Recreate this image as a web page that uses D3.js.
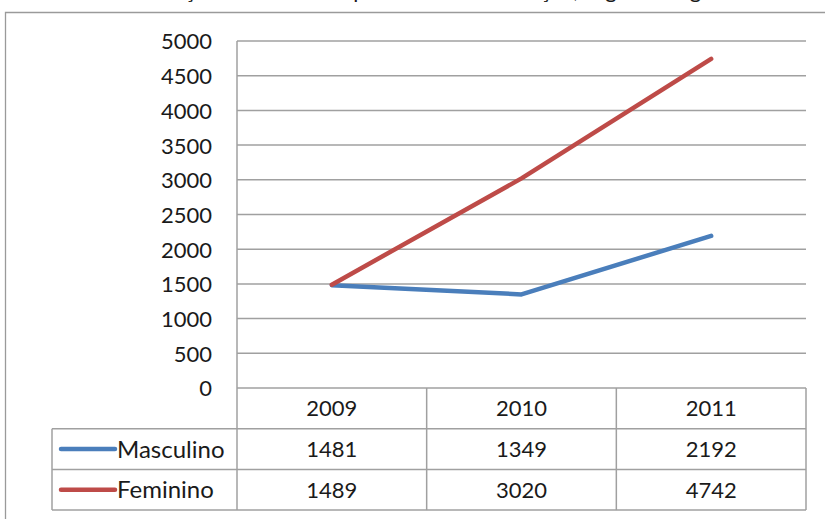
<!DOCTYPE html>
<html><head><meta charset="utf-8">
<script src="https://cdn.jsdelivr.net/npm/d3@7"></script>
<style>body{margin:0;background:#fff}svg{display:block}text{font-family:Lato,"Open Sans",sans-serif;fill:#1a1a1a}</style>
</head><body><svg id="c" width="825" height="519"></svg>
<script>
const title = "Gráfico com notificações de violência por área de notificação, segundo o gênero";
const categories = ["2009", "2010", "2011"];
const seriesNames = ["Masculino", "Feminino"];
const masculino = [1481, 1349, 2192];
const feminino = [1489, 3020, 4742];
const yTicks = [0, 500, 1000, 1500, 2000, 2500, 3000, 3500, 4000, 4500, 5000];
const colors = ["#4a7ebb", "#be4b48"];

const series = [masculino, feminino];
const svg = d3.select("#c");
const W = 825, H = 519;
const L = 237, R = 806, T = 41, B = 388;
const rowH = 40.7;
const legendLeft = 52;
const grid = "#a0a0a0";
const numSize = 22, labSize = 24;

// cut-off title at top
svg.append("text").attr("x", -10).attr("y", -2).attr("font-size", 22).text(title);

// outer chart border
svg.append("path").attr("d", `M5.5,${H+2}V12.5H${W+2}`).attr("fill", "none").attr("stroke", "#9a9a9a").attr("stroke-width", 1.3);

const x = d3.scaleBand().domain(categories).range([L, R]);
const y = d3.scaleLinear().domain([0, 5000]).range([B, T]);

// gridlines
svg.append("g").selectAll("line").data(yTicks).join("line")
  .attr("x1", L).attr("x2", R).attr("y1", d => y(d)).attr("y2", d => y(d))
  .attr("stroke", grid).attr("stroke-width", 1.5);

// y axis via d3
const ay = svg.append("g").attr("transform", `translate(${L},0)`)
  .call(d3.axisLeft(y).tickValues(yTicks).tickSize(0).tickPadding(25).tickFormat(d3.format("d")));
ay.select(".domain").remove();
ay.selectAll("text").attr("font-size", numSize).attr("font-family", "Lato,'Open Sans',sans-serif").attr("fill", "#1a1a1a").attr("dy", "0.36em");

// data table lines
const tableTop = B, hdrBot = B + rowH, r1 = hdrBot + rowH, r2 = r1 + rowH;
const tg = svg.append("g").attr("stroke", grid).attr("stroke-width", 1.5);
tg.append("line").attr("x1", L).attr("x2", L).attr("y1", T).attr("y2", r2);
categories.forEach(c => {
  const xr = x(c) + x.bandwidth();
  tg.append("line").attr("x1", xr).attr("x2", xr).attr("y1", tableTop).attr("y2", r2);
});
tg.append("line").attr("x1", legendLeft).attr("x2", legendLeft).attr("y1", hdrBot).attr("y2", r2);
[hdrBot, r1, r2].forEach(yy => tg.append("line").attr("x1", legendLeft).attr("x2", R).attr("y1", yy).attr("y2", yy));

// header years
svg.append("g").selectAll("text").data(categories).join("text")
  .attr("x", d => x(d) + x.bandwidth() / 2).attr("y", tableTop + rowH / 2).attr("dy", "0.36em")
  .attr("text-anchor", "middle").attr("font-size", numSize).text(d => d);

// rows
series.forEach((s, i) => {
  const cy = hdrBot + rowH * i + rowH / 2;
  svg.append("line").attr("x1", 61).attr("x2", 115).attr("y1", cy).attr("y2", cy)
    .attr("stroke", colors[i]).attr("stroke-width", 4.5).attr("stroke-linecap", "round");
  svg.append("text").attr("x", 117).attr("y", cy).attr("dy", "0.36em").attr("font-size", labSize).text(seriesNames[i]);
  svg.append("g").selectAll("text").data(s).join("text")
    .attr("x", (d, j) => x(categories[j]) + x.bandwidth() / 2).attr("y", cy).attr("dy", "0.36em")
    .attr("text-anchor", "middle").attr("font-size", numSize).text(d => d);
});

// lines
const line = d3.line().x((d, j) => x(categories[j]) + x.bandwidth() / 2).y(d => y(d));
series.forEach((s, i) => {
  svg.append("path").datum(s).attr("d", line).attr("fill", "none")
    .attr("stroke", colors[i]).attr("stroke-width", 4.5).attr("stroke-linecap", "round").attr("stroke-linejoin", "round");
});
</script></body></html>
